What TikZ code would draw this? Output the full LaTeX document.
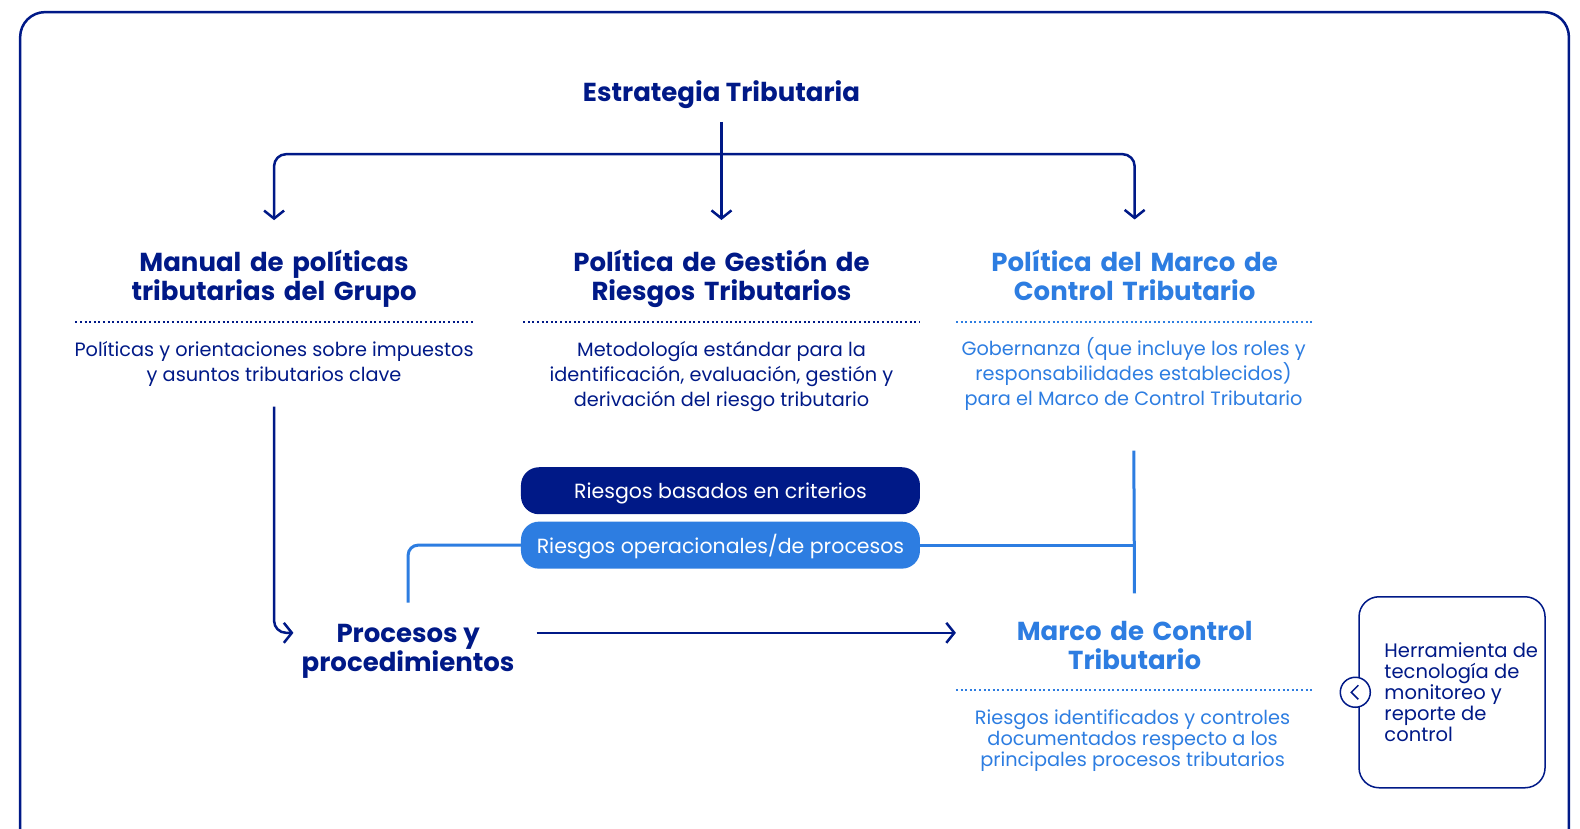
\documentclass[tikz,border=0pt]{standalone}
\usepackage{fontspec}
\setmainfont{Poppins}
\usetikzlibrary{arrows.meta, positioning, calc}
\definecolor{TaxNavy}{RGB}{  0,  25, 135}
\definecolor{TaxBlue}{RGB}{ 45, 125, 225}
\tikzset{
  % outer frame
  outerframe/.style={
    draw=TaxNavy, line width=2.5pt, rounded corners=25pt
  },
  % bold headings
  headnode/.style={
    font=\bfseries\fontsize{26}{29}\selectfont,
    text=TaxNavy, align=center, inner sep=0pt
  },
  % descriptive text
  bodynode/.style={
    font=\fontsize{19.3}{25}\selectfont,
    text=TaxNavy, align=center, inner sep=0pt
  },
  % risk pills
  pillnode/.style={
    rectangle, rounded corners=18pt, draw=none,
    text=white, font=\fontsize{20.5}{24}\selectfont,
    text height=18pt, text depth=2pt,
    minimum width=399pt, minimum height=47pt, inner sep=0pt
  },
  % tool box
  toolbox/.style={
    rectangle, rounded corners=20pt, draw=TaxNavy, line width=1.5pt,
    minimum width=186pt, minimum height=191pt, inner sep=0pt
  },
  tooltext/.style={
    text=TaxNavy, font=\fontsize{19.5}{21}\selectfont,
    align=left, inner sep=0pt
  },
  % dotted separator
  dotline/.style={
    line width=2pt, dash pattern=on 2pt off 2.6pt
  },
  % arrows
  flowarrow/.style={
    -{Straight Barb[length=8pt, width=20pt]},
    line width=2.5pt, draw=TaxNavy
  },
  % light blue links
  linkline/.style={
    line width=3pt, draw=TaxBlue
  }
}

\begin{document}
\begin{tikzpicture}[x=1.00765pt, y=-1.00765pt]
  \useasboundingbox (0,0) rectangle (1568,822);

  % ── Frame ────────────────────────────────────────────
  \begin{scope}
    \clip (0,0) rectangle (1568,822);
    \draw[outerframe] (20,12) rectangle (1557,870);
  \end{scope}

  % ── Headings ─────────────────────────────────────────
  \node[headnode] (estrategia) at (716,94) {Estrategia Tributaria};

  \node[headnode, text width=397pt] (manual) at (272,277)
        {Manual de políticas\\tributarias del Grupo};
  \node[headnode, text width=396pt] (gestion) at (716,277)
        {Política de Gestión de\\Riesgos Tributarios};
  \node[headnode, text width=357pt, text=TaxBlue] (marcopol) at (1126,273)
        {Política del Marco de\\Control Tributario};

  % ── Descriptions ─────────────────────────────────────
  \node[bodynode] (manualtxt) at (272,361)
        {Políticas y orientaciones sobre impuestos\\y asuntos tributarios clave};
  \node[bodynode] (gestiontxt) at (716,374)
        {Metodología estándar para la\\identificación, evaluación, gestión y\\derivación del riesgo tributario};
  \node[bodynode, text=TaxBlue] (marcopoltxt) at (1125,371)
        {Gobernanza (que incluye los roles y\\responsabilidades establecidos)\\para el Marco de Control Tributario};

  % dotted separators
  \draw[dotline, TaxNavy] (manual.west |- 0,320) -- (manual.east |- 0,320);
  \draw[dotline, TaxNavy] (gestion.west |- 0,320) -- (gestion.east |- 0,320);
  \draw[dotline, TaxBlue] (marcopol.west |- 0,320) -- (marcopol.east |- 0,320);

  % ── Risk pills ───────────────────────────────────────
  \node[pillnode, fill=TaxNavy] (criterios) at (715,487)
        {Riesgos basados en criterios};
  \node[pillnode, fill=TaxBlue] (operacional) at (715,541)
        {Riesgos operacionales/de procesos};

  % ── Lower row ────────────────────────────────────────
  \node[headnode] (procesos) at (405,646) {Procesos y\\procedimientos};
  \node[headnode, text width=357pt, text=TaxBlue] (marco) at (1126,641)
        {Marco de Control\\Tributario};
  \draw[dotline, TaxBlue] (marco.west |- 0,685) -- (marco.east |- 0,685);
  \node[bodynode, text=TaxBlue, font=\fontsize{19.3}{21}\selectfont]
        (marcotxt) at (1124,735)
        {Riesgos identificados y controles\\documentados respecto a los\\principales procesos tributarios};

  % tool box with chevron
  \node[toolbox] (herramienta) at (1441,687) {};
  \node[tooltext, anchor=west, xshift=26pt] (herramientatxt) at (herramienta.west)
        {Herramienta de\\tecnología de\\monitoreo y\\reporte de\\control};
  \node[circle, draw=TaxNavy, fill=white, line width=1.5pt,
        minimum size=30pt, inner sep=0pt, xshift=-3pt] (chevron) at (herramienta.west) {};
  \draw[TaxNavy, line width=1.5pt]
        ([xshift=3pt, yshift=7pt]chevron.center) -- ([xshift=-4pt]chevron.center)
        -- ([xshift=3pt, yshift=-7pt]chevron.center);

  % ── Arrows ───────────────────────────────────────────
  \coordinate (split) at (estrategia.south |- 0,153);
  \draw[flowarrow, shorten <=13pt, shorten >=30pt] (estrategia.south) -- (gestion.north);
  \draw[flowarrow, rounded corners=12pt, shorten >=30pt] (split) -| (manual.north);
  \draw[flowarrow, rounded corners=12pt, shorten >=30pt] (split) -| (marcopol.north);

  \coordinate (procin) at ($(procesos.west)+(-8,-18)$);
  \draw[flowarrow, rounded corners=12pt, shorten <=20pt]
        (manualtxt.south) |- (procin);
  \draw[flowarrow, shorten <=22pt] (procesos.east |- procin) -- (marco.west |- procin);

  % ── Light blue links ─────────────────────────────────
  \draw[linkline, rounded corners=10pt, shorten >=21pt]
        (operacional.west) -| (procesos.north);
  \draw[linkline] (operacional.east) -- (operacional.east -| marco.north);
  \draw[linkline, shorten <=40pt, shorten >=28pt] (marcopoltxt.south) -- (marco.north);

\end{tikzpicture}
\end{document}
